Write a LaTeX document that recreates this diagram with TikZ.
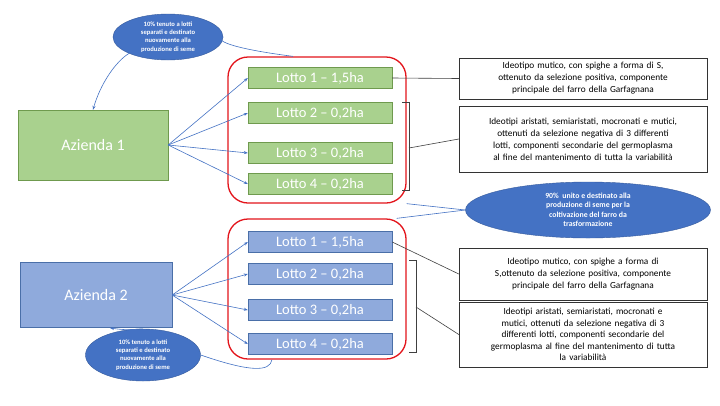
\documentclass[tikz,border=0pt]{standalone}
\usepackage{fontspec}
\setmainfont{Carlito}
\usetikzlibrary{shapes.geometric,arrows.meta}
\definecolor{gr}{HTML}{A9D18E}
\definecolor{grb}{HTML}{6F9A4E}
\definecolor{bl}{HTML}{8FAADC}
\definecolor{blb}{HTML}{4A6FA8}
\definecolor{dk}{HTML}{4472C4}
\definecolor{rd}{HTML}{E3141B}
\begin{document}
\begin{tikzpicture}[x=1pt,y=-1pt,
 lotg/.style={draw=grb,fill=gr,text=white,minimum width=144pt,minimum height=21pt,inner sep=0pt,font=\fontsize{14.5}{14}\selectfont},
 lotb/.style={draw=blb,fill=bl,text=white,minimum width=144pt,minimum height=21pt,inner sep=0pt,font=\fontsize{14.5}{14}\selectfont},
 az/.style={text=white,inner sep=0pt,font=\fontsize{16}{16}\selectfont},
 tb/.style={draw=black!80,fill=white,align=center,inner sep=2pt,text width=244pt,font=\fontsize{9.3}{12}\selectfont},
 ell/.style={ellipse,fill=dk,draw=dk!80!black,text=white,align=center,inner sep=0pt,font=\fontsize{6.6}{8.2}\selectfont\bfseries},
 red/.style={draw=rd,line width=1.3pt,rounded corners=20pt},
 con/.style={draw=dk,line width=0.6pt},
 arr/.style={con,-{Stealth[length=4pt,width=3pt]}},
 gl/.style={draw=black!75,line width=0.6pt}]
\useasboundingbox (0,0) rectangle (720,405);
\fill[white] (0,0) rectangle (720,405);
% Azienda boxes
\node[az,fill=gr,draw=grb,minimum width=150pt,minimum height=70pt] (a1) at (93,145) {Azienda 1};
\node[az,fill=bl,draw=blb,minimum width=152pt,minimum height=65pt] (a2) at (96,295) {Azienda 2};
% red frames
\node[red,minimum width=178pt,minimum height=146pt] (r1) at (317,130) {};
\node[red,minimum width=178pt,minimum height=140pt] (r2) at (317,289) {};
% lots
\node[lotg] (g1) at (320,78) {Lotto 1 – 1,5ha};
\node[lotg] (g2) at (320,113) {Lotto 2 – 0,2ha};
\node[lotg] (g3) at (320,153) {Lotto 3 – 0,2ha};
\node[lotg] (g4) at (320,184) {Lotto 4 – 0,2ha};
\node[lotb] (b1) at (320,242) {Lotto 1 – 1,5ha};
\node[lotb] (b2) at (320,274) {Lotto 2 – 0,2ha};
\node[lotb] (b3) at (320,310) {Lotto 3 – 0,2ha};
\node[lotb] (b4) at (320,344) {Lotto 4 – 0,2ha};
\foreach \n in {g1,g2,g3,g4}{\draw[arr] (a1.east) -- (\n.west);}
\foreach \n in {b1,b2,b3,b4}{\draw[arr] (a2.east) -- (\n.west);}
% text boxes
\node[tb,minimum height=41pt] (t1) at (583,78.5) {Ideotipo mutico, con spighe a forma di S,\\ ottenuto da selezione positiva, componente\\ principale del farro della Garfagnana};
\node[tb,minimum height=66pt] (t2) at (583,139) {Ideotipi aristati, semiaristati, mocronati e mutici,\\ ottenuti da selezione negativa di 3 differenti\\ lotti, componenti secondarie del germoplasma\\ al fine del mantenimento di tutta la variabilità};
\node[tb,minimum height=52pt] (t3) at (583,274) {Ideotipo mutico, con spighe a forma di\\ S,ottenuto da selezione positiva, componente\\ principale del farro della Garfagnana};
\node[tb,minimum height=65pt,font=\fontsize{9.3}{11.5}\selectfont] (t4) at (583,334.5) {Ideotipi aristati, semiaristati, mocronati e\\ mutici, ottenuti da selezione negativa di 3\\ differenti lotti, componenti secondarie del\\ germoplasma al fine del mantenimento di tutta\\ la variabilità};
% brackets
\coordinate (k1) at (409,148);
\coordinate (k2) at (416,307);
\draw[gl] (402,102) -- (409,102) -- (409,190) -- (402,190);
\draw[gl] (409,260) -- (416,260) -- (416,352) -- (409,352);
\draw[gl] (k1) -- (t2.west);
\draw[gl] (k2) -- (t4.west);
\draw[gl] (g1.east) -- (t1.west);
\draw[gl] (b1.east) -- (t3.west);
% ellipses
\node[ell,minimum width=110pt,minimum height=46pt] (e1) at (168,37) {10\% tenuto a lotti\\ separati e destinato\\ nuovamente alla\\ produzione di seme};
\node[ell,minimum width=245pt,minimum height=56pt,font=\fontsize{7.8}{9.5}\selectfont\bfseries] (e2) at (588,210) {90\%\ \ unito e destinato alla\\ produzione di seme per la\\ coltivazione del farro da\\ trasformazione};
\node[ell,minimum width=115pt,minimum height=52pt] (e3) at (143,355) {10\% tenuto a lotti\\ separati e destinato\\ nuovamente alla\\ produzione di seme};
% ellipse connectors
\draw[arr] (e1.south west) .. controls (115,62) and (100,85) .. (a1.north);
\draw[con] (e1.east) .. controls (215,40) and (228,48) .. ([xshift=-24pt]r1.north);
\draw[con] (r1.south east) -- (e2.west);
\draw[con] ([xshift=-10pt]r2.north east) -- (e2.west);
\draw[arr] (e3.north) .. controls (125,330) .. (110,328);
\draw[con] (e3.east) .. controls (250,372) and (270,372) .. ([xshift=-45pt]r2.south);
\end{tikzpicture}
\end{document}
